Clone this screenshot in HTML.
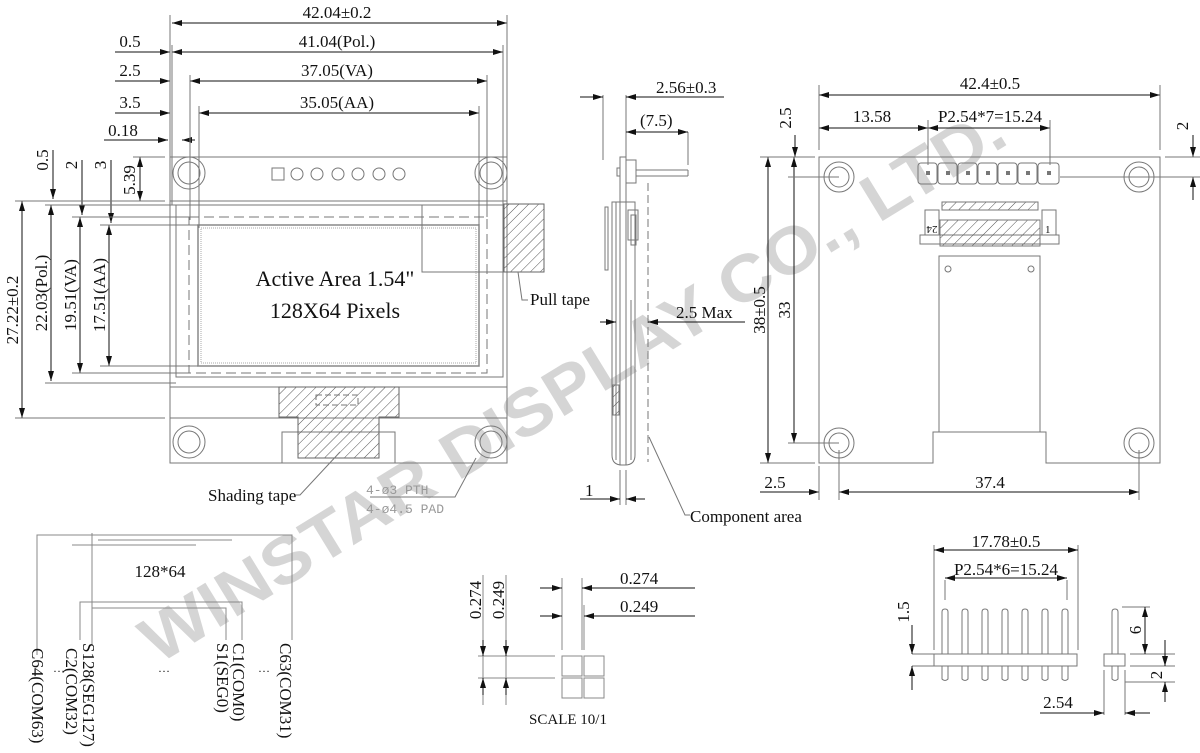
<!DOCTYPE html>
<html><head><meta charset="utf-8"><style>
html,body{margin:0;padding:0;background:#fff;}
svg{display:block;}
text{font-family:"Liberation Serif",serif;fill:#111;}
text.wm{font-family:"Liberation Sans",sans-serif;font-weight:bold;fill:#c4c4c4;}
</style></head><body>
<svg width="1200" height="753" viewBox="0 0 1200 753" xmlns="http://www.w3.org/2000/svg">
<defs>
<marker id="a" viewBox="0 0 10 6" refX="10" refY="3" markerWidth="10" markerHeight="6" orient="auto-start-reverse" markerUnits="userSpaceOnUse"><path d="M0,0 L10,3 L0,6 z" fill="#111"/></marker>
<pattern id="h" width="7" height="7" patternUnits="userSpaceOnUse" patternTransform="rotate(45)"><line x1="0" y1="0" x2="0" y2="7" stroke="#555" stroke-width="1"/></pattern>
</defs>
<!-- watermark -->
<text class="wm" transform="translate(158,665) rotate(-31.5)" font-size="66" textLength="1000" lengthAdjust="spacingAndGlyphs" opacity="0.7">WINSTAR DISPLAY CO., LTD.</text>
<g stroke="#777" stroke-width="1" fill="none">
<!-- FRONT VIEW -->
<rect x="170" y="157" width="337" height="306"/>
<rect x="170" y="201" width="337" height="186"/>
<rect x="176" y="205" width="327" height="172"/>
<rect x="189" y="217" width="298" height="156" stroke-dasharray="10,5"/>
<rect x="198" y="225" width="281" height="141" stroke="#888" stroke-width="1.5"/>
<rect x="201" y="228" width="275" height="135" stroke="#aaa" stroke-dasharray="1,1"/>
<line x1="170" y1="418" x2="507" y2="418"/>
<rect x="282" y="432" width="113" height="31" fill="#fff"/>
<circle cx="189" cy="173" r="16"/><circle cx="189" cy="173" r="11"/>
<circle cx="491" cy="173" r="16"/><circle cx="491" cy="173" r="11"/>
<circle cx="189" cy="442" r="16"/><circle cx="189" cy="442" r="11"/>
<circle cx="491" cy="442" r="16"/><circle cx="491" cy="442" r="11"/>
<rect x="272" y="168" width="12" height="12"/>
<circle cx="297" cy="174" r="6"/><circle cx="317" cy="174" r="6"/><circle cx="338" cy="174" r="6"/><circle cx="358" cy="174" r="6"/><circle cx="379" cy="174" r="6"/><circle cx="399" cy="174" r="6"/>
<path d="M279,387 H399 V417 H379 V458 H298 V417 H279 Z" fill="url(#h)" stroke="#666"/>
<rect x="316" y="395" width="42" height="10" stroke-dasharray="6,3"/>
<rect x="504" y="204" width="40" height="68" fill="url(#h)" stroke="#666"/>
<polyline points="422,205 422,272 503,272"/>
<polyline points="518,272 522,300 528,300"/>
<polyline points="340,452 300,495 295,495"/>
<polyline points="476,458 455,497 370,497"/>
<g stroke="#111">
<line x1="172" y1="23" x2="507" y2="23" marker-start="url(#a)" marker-end="url(#a)"/>
<line x1="172" y1="52" x2="503" y2="52" marker-start="url(#a)" marker-end="url(#a)"/>
<line x1="190" y1="81" x2="487" y2="81" marker-start="url(#a)" marker-end="url(#a)"/>
<line x1="199" y1="113" x2="479" y2="113" marker-start="url(#a)" marker-end="url(#a)"/>
<line x1="115" y1="52" x2="170" y2="52" marker-end="url(#a)"/>
<line x1="115" y1="81" x2="170" y2="81" marker-end="url(#a)"/>
<line x1="115" y1="113" x2="170" y2="113" marker-end="url(#a)"/>
<line x1="104" y1="140" x2="168" y2="140" marker-end="url(#a)"/>
<line x1="195" y1="140" x2="182" y2="140" marker-end="url(#a)"/>
</g>
<line x1="170" y1="15" x2="170" y2="215"/><line x1="172" y1="45" x2="172" y2="205"/>
<line x1="190" y1="75" x2="190" y2="220"/><line x1="199" y1="106" x2="199" y2="228"/>
<line x1="507" y1="15" x2="507" y2="200"/><line x1="503" y1="45" x2="503" y2="205"/>
<line x1="487" y1="75" x2="487" y2="217"/><line x1="479" y1="106" x2="479" y2="225"/>
<g stroke="#111">
<line x1="22" y1="201" x2="22" y2="418" marker-start="url(#a)" marker-end="url(#a)"/>
<line x1="51" y1="205" x2="51" y2="381" marker-start="url(#a)" marker-end="url(#a)"/>
<line x1="80" y1="217" x2="80" y2="373" marker-start="url(#a)" marker-end="url(#a)"/>
<line x1="109" y1="225" x2="109" y2="366" marker-start="url(#a)" marker-end="url(#a)"/>
<line x1="140" y1="157" x2="140" y2="201" marker-start="url(#a)" marker-end="url(#a)"/>
<line x1="53" y1="150" x2="53" y2="199" marker-end="url(#a)"/>
<line x1="82" y1="160" x2="82" y2="215" marker-end="url(#a)"/>
<line x1="111" y1="160" x2="111" y2="223" marker-end="url(#a)"/>
</g>
<line x1="15" y1="201" x2="165" y2="201"/><line x1="45" y1="205" x2="176" y2="205"/>
<line x1="72" y1="217" x2="189" y2="217"/><line x1="100" y1="225" x2="198" y2="225"/>
<line x1="133" y1="157" x2="165" y2="157"/>
<line x1="15" y1="418" x2="165" y2="418"/><line x1="45" y1="383" x2="176" y2="383"/>
<line x1="72" y1="373" x2="189" y2="373"/><line x1="100" y1="366" x2="198" y2="366"/>

<!-- SIDE VIEW -->
<rect x="620" y="157" width="6" height="308"/>
<path d="M612,202 H635 V455 Q635,465 625,465 H622 Q612,465 612,455 Z"/>
<line x1="616" y1="202" x2="616" y2="460"/><line x1="631" y1="300" x2="631" y2="460"/>
<rect x="605" y="207" width="3" height="63"/>
<rect x="626" y="160" width="10" height="23"/>
<line x1="636" y1="170" x2="688" y2="170"/><line x1="636" y1="176" x2="688" y2="176"/><line x1="688" y1="170" x2="688" y2="176"/>
<path d="M617,168 h3 v8 h-3 z"/>
<rect x="628" y="210" width="10" height="30"/><rect x="631" y="215" width="5" height="30"/>
<rect x="613" y="385" width="6" height="30" fill="url(#h)"/>
<line x1="648" y1="183" x2="648" y2="462" stroke-dasharray="8,4"/>
<line x1="603" y1="95" x2="603" y2="160"/><line x1="626" y1="95" x2="626" y2="160"/>
<line x1="688" y1="132" x2="688" y2="165"/>
<line x1="620" y1="470" x2="620" y2="505"/><line x1="626" y1="470" x2="626" y2="505"/>
<polyline points="649,437 685,515 690,515"/>
<g stroke="#111">
<line x1="580" y1="97" x2="603" y2="97" marker-end="url(#a)"/>
<line x1="650" y1="97" x2="626" y2="97" marker-end="url(#a)"/>
<line x1="650" y1="97" x2="724" y2="97"/>
<line x1="626" y1="132" x2="688" y2="132" marker-start="url(#a)" marker-end="url(#a)"/>
<line x1="600" y1="322" x2="616" y2="322" marker-end="url(#a)"/>
<line x1="745" y1="322" x2="648" y2="322" marker-end="url(#a)"/>
<line x1="580" y1="499" x2="620" y2="499" marker-end="url(#a)"/>
<line x1="645" y1="499" x2="626" y2="499" marker-end="url(#a)"/>
</g>

<!-- BACK VIEW -->
<path d="M819,157 H1160 V463 H1046 V432 H933 V463 H819 Z"/>
<circle cx="839" cy="177" r="15"/><circle cx="839" cy="177" r="10"/>
<circle cx="1139" cy="177" r="15"/><circle cx="1139" cy="177" r="10"/>
<circle cx="839" cy="443" r="15"/><circle cx="839" cy="443" r="10"/>
<circle cx="1139" cy="443" r="15"/><circle cx="1139" cy="443" r="10"/>
<rect x="918" y="163" width="19" height="21" rx="3"/><rect x="938" y="163" width="19" height="21" rx="3"/><rect x="958" y="163" width="19" height="21" rx="3"/><rect x="978" y="163" width="19" height="21" rx="3"/><rect x="998" y="163" width="19" height="21" rx="3"/><rect x="1018" y="163" width="19" height="21" rx="3"/><rect x="1038" y="163" width="21" height="21" rx="3"/>
<g fill="#777" stroke="none"><rect x="926" y="171" width="4" height="4"/><rect x="946" y="171" width="4" height="4"/><rect x="966" y="171" width="4" height="4"/><rect x="986" y="171" width="4" height="4"/><rect x="1006" y="171" width="4" height="4"/><rect x="1026" y="171" width="4" height="4"/><rect x="1047" y="171" width="4" height="4"/></g>
<rect x="920" y="235" width="139" height="9"/>
<rect x="925" y="210" width="14" height="25"/><rect x="1042" y="210" width="14" height="25"/>
<rect x="940" y="220" width="100" height="26" fill="url(#h)"/>
<rect x="942" y="202" width="96" height="8" fill="url(#h)"/>
<rect x="939" y="256" width="101" height="176"/>
<line x1="939" y1="256" x2="1040" y2="256" stroke-dasharray="8,4"/>
<circle cx="948" cy="269" r="3"/><circle cx="1031" cy="269" r="3"/>
<g stroke="#111">
<line x1="819" y1="95" x2="1160" y2="95" marker-start="url(#a)" marker-end="url(#a)"/>
<line x1="819" y1="128" x2="928" y2="128" marker-start="url(#a)" marker-end="url(#a)"/>
<line x1="928" y1="128" x2="1050" y2="128" marker-start="url(#a)" marker-end="url(#a)"/>
<line x1="794" y1="157" x2="794" y2="443" marker-start="url(#a)" marker-end="url(#a)"/>
<line x1="768" y1="157" x2="768" y2="463" marker-start="url(#a)" marker-end="url(#a)"/>
<line x1="795" y1="135" x2="795" y2="157" marker-end="url(#a)"/>
<line x1="1193" y1="135" x2="1193" y2="157" marker-end="url(#a)"/>
<line x1="1193" y1="200" x2="1193" y2="177" marker-end="url(#a)"/>
<line x1="760" y1="492" x2="819" y2="492" marker-end="url(#a)"/>
<line x1="839" y1="492" x2="1139" y2="492" marker-start="url(#a)" marker-end="url(#a)"/>
</g>
<line x1="819" y1="85" x2="819" y2="150"/><line x1="1160" y1="85" x2="1160" y2="150"/>
<line x1="928" y1="120" x2="928" y2="165"/><line x1="1050" y1="120" x2="1050" y2="165"/>
<line x1="760" y1="157" x2="815" y2="157"/><line x1="760" y1="463" x2="815" y2="463"/>
<line x1="788" y1="177" x2="839" y2="177"/><line x1="788" y1="443" x2="839" y2="443"/>
<line x1="1165" y1="157" x2="1200" y2="157"/><line x1="1060" y1="177" x2="1200" y2="177"/>
<line x1="819" y1="466" x2="819" y2="500"/><line x1="839" y1="450" x2="839" y2="500"/><line x1="1139" y1="450" x2="1139" y2="500"/>

<!-- PIN DIAGRAM -->
<g stroke="#888">
<polyline points="37,655 37,535 292,535 292,640"/>
<line x1="92" y1="533" x2="92" y2="645"/>
<polyline points="80,640 80,602 242,602 242,640"/>
<polyline points="92,608 226,608 226,640"/>
<line x1="72" y1="545" x2="196" y2="545"/>
<line x1="98" y1="540" x2="232" y2="540"/>
</g>
<!-- SCALE -->
<g stroke="#888">
<rect x="562" y="656" width="20" height="20"/><rect x="584" y="656" width="20" height="20"/>
<rect x="562" y="678" width="20" height="20"/><rect x="584" y="678" width="20" height="20"/>
<line x1="562" y1="578" x2="562" y2="650"/><line x1="582" y1="578" x2="582" y2="650"/>
<line x1="584" y1="605" x2="584" y2="650"/>
<line x1="478" y1="656" x2="555" y2="656"/><line x1="478" y1="678" x2="555" y2="678"/>
<line x1="483" y1="575" x2="483" y2="705"/><line x1="506" y1="575" x2="506" y2="705"/>
</g>
<g stroke="#111">
<line x1="540" y1="588" x2="562" y2="588" marker-end="url(#a)"/><line x1="695" y1="588" x2="582" y2="588" marker-end="url(#a)"/>
<line x1="540" y1="616" x2="562" y2="616" marker-end="url(#a)"/><line x1="695" y1="616" x2="584" y2="616" marker-end="url(#a)"/>
<line x1="483" y1="640" x2="483" y2="656" marker-end="url(#a)"/><line x1="483" y1="695" x2="483" y2="678" marker-end="url(#a)"/>
<line x1="506" y1="640" x2="506" y2="656" marker-end="url(#a)"/><line x1="506" y1="695" x2="506" y2="678" marker-end="url(#a)"/>
</g>

<!-- PIN HEADER -->
<rect x="934" y="654" width="143" height="12"/>
<path d="M942,654 v-42 q0,-3 3,-3 q3,0 3,3 v42 M962,654 v-42 q0,-3 3,-3 q3,0 3,3 v42 M982,654 v-42 q0,-3 3,-3 q3,0 3,3 v42 M1002,654 v-42 q0,-3 3,-3 q3,0 3,3 v42 M1022,654 v-42 q0,-3 3,-3 q3,0 3,3 v42 M1042,654 v-42 q0,-3 3,-3 q3,0 3,3 v42 M1062,654 v-42 q0,-3 3,-3 q3,0 3,3 v42"/>
<path d="M942,666 v13 q3,3 6,0 v-13 M962,666 v13 q3,3 6,0 v-13 M982,666 v13 q3,3 6,0 v-13 M1002,666 v13 q3,3 6,0 v-13 M1022,666 v13 q3,3 6,0 v-13 M1042,666 v13 q3,3 6,0 v-13 M1062,666 v13 q3,3 6,0 v-13"/>
<rect x="1104" y="654" width="21" height="12"/>
<path d="M1112,654 v-42 q0,-3 3,-3 q3,0 3,3 v42 M1112,666 v13 q3,3 6,0 v-13"/>
<line x1="934" y1="545" x2="934" y2="650"/><line x1="1078" y1="545" x2="1078" y2="650"/>
<line x1="945" y1="580" x2="945" y2="600"/><line x1="1067" y1="580" x2="1067" y2="600"/>
<line x1="912" y1="654" x2="934" y2="654"/><line x1="912" y1="666" x2="934" y2="666"/>
<line x1="1122" y1="607" x2="1150" y2="607"/><line x1="1130" y1="654" x2="1175" y2="654"/><line x1="1130" y1="666" x2="1175" y2="666"/><line x1="1125" y1="682" x2="1175" y2="682"/>
<line x1="1104" y1="670" x2="1104" y2="715"/><line x1="1125" y1="670" x2="1125" y2="715"/>
<g stroke="#111">
<line x1="934" y1="550" x2="1078" y2="550" marker-start="url(#a)" marker-end="url(#a)"/>
<line x1="945" y1="578" x2="1067" y2="578" marker-start="url(#a)" marker-end="url(#a)"/>
<line x1="912" y1="625" x2="912" y2="654" marker-end="url(#a)"/><line x1="912" y1="690" x2="912" y2="666" marker-end="url(#a)"/>
<line x1="1145" y1="607" x2="1145" y2="654" marker-start="url(#a)" marker-end="url(#a)"/>
<line x1="1165" y1="640" x2="1165" y2="666" marker-end="url(#a)"/><line x1="1165" y1="702" x2="1165" y2="682" marker-end="url(#a)"/>
<line x1="1040" y1="713" x2="1104" y2="713" marker-end="url(#a)"/><line x1="1150" y1="713" x2="1125" y2="713" marker-end="url(#a)"/>
</g>
</g>

<!-- TEXT -->
<g font-size="17">
<text x="337" y="18" text-anchor="middle">42.04±0.2</text>
<text x="337" y="47" text-anchor="middle">41.04(Pol.)</text>
<text x="337" y="76" text-anchor="middle">37.05(VA)</text>
<text x="337" y="108" text-anchor="middle">35.05(AA)</text>
<text x="130" y="47" text-anchor="middle">0.5</text>
<text x="130" y="76" text-anchor="middle">2.5</text>
<text x="130" y="108" text-anchor="middle">3.5</text>
<text x="123" y="136" text-anchor="middle">0.18</text>
<text transform="translate(48,160) rotate(-90)" text-anchor="middle">0.5</text>
<text transform="translate(77,165) rotate(-90)" text-anchor="middle">2</text>
<text transform="translate(106,165) rotate(-90)" text-anchor="middle">3</text>
<text transform="translate(135,180) rotate(-90)" text-anchor="middle">5.39</text>
<text transform="translate(18,310) rotate(-90)" text-anchor="middle">27.22±0.2</text>
<text transform="translate(47,293) rotate(-90)" text-anchor="middle">22.03(Pol.)</text>
<text transform="translate(76,295) rotate(-90)" text-anchor="middle">19.51(VA)</text>
<text transform="translate(105,295) rotate(-90)" text-anchor="middle">17.51(AA)</text>
<text x="335" y="286" font-size="22" text-anchor="middle">Active Area 1.54"</text>
<text x="335" y="318" font-size="22" text-anchor="middle">128X64 Pixels</text>
<text x="530" y="305">Pull tape</text>
<text x="208" y="501">Shading tape</text>
<text x="366" y="494" font-size="13" style="font-family:'Liberation Mono',monospace;fill:#999">4-ø3 PTH</text>
<text x="366" y="513" font-size="13" style="font-family:'Liberation Mono',monospace;fill:#999">4-ø4.5 PAD</text>
<text x="656" y="93">2.56±0.3</text>
<text x="640" y="126">(7.5)</text>
<text x="676" y="318">2.5 Max</text>
<text x="585" y="496">1</text>
<text x="690" y="522">Component area</text>
<text x="990" y="89" text-anchor="middle">42.4±0.5</text>
<text x="872" y="122" text-anchor="middle">13.58</text>
<text x="990" y="122" text-anchor="middle">P2.54*7=15.24</text>
<text transform="translate(791,118) rotate(-90)" text-anchor="middle">2.5</text>
<text transform="translate(1188,126) rotate(-90)" text-anchor="middle">2</text>
<text transform="translate(790,310) rotate(-90)" text-anchor="middle">33</text>
<text transform="translate(765,310) rotate(-90)" text-anchor="middle">38±0.5</text>
<text x="775" y="488" text-anchor="middle">2.5</text>
<text x="990" y="488" text-anchor="middle">37.4</text>
<text transform="translate(932,226) rotate(180)" font-size="11" text-anchor="middle">24</text>
<text x="1045" y="233" font-size="11">1</text>
<text x="160" y="577" text-anchor="middle">128*64</text>
<text transform="translate(32,648) rotate(90)">C64(COM63)</text>
<text transform="translate(66,648) rotate(90)">C2(COM32)</text>
<text transform="translate(83,643) rotate(90)">S128(SEG127)</text>
<text transform="translate(217,643) rotate(90)">S1(SEG0)</text>
<text transform="translate(233,643) rotate(90)">C1(COM0)</text>
<text transform="translate(280,643) rotate(90)">C63(COM31)</text>
<text x="53" y="672" font-size="12">…</text>
<text x="158" y="672" font-size="12">…</text>
<text x="258" y="672" font-size="12">…</text>
<text x="620" y="584">0.274</text>
<text x="620" y="612">0.249</text>
<text transform="translate(481,600) rotate(-90)" text-anchor="middle">0.274</text>
<text transform="translate(504,600) rotate(-90)" text-anchor="middle">0.249</text>
<text x="568" y="724" text-anchor="middle" font-size="15">SCALE 10/1</text>
<text x="1006" y="547" text-anchor="middle">17.78±0.5</text>
<text x="1006" y="575" text-anchor="middle">P2.54*6=15.24</text>
<text transform="translate(909,612) rotate(-90)" text-anchor="middle">1.5</text>
<text transform="translate(1141,630) rotate(-90)" text-anchor="middle">6</text>
<text transform="translate(1162,675) rotate(-90)" text-anchor="middle">2</text>
<text x="1058" y="708" text-anchor="middle">2.54</text>
</g>
</svg>
</body></html>
